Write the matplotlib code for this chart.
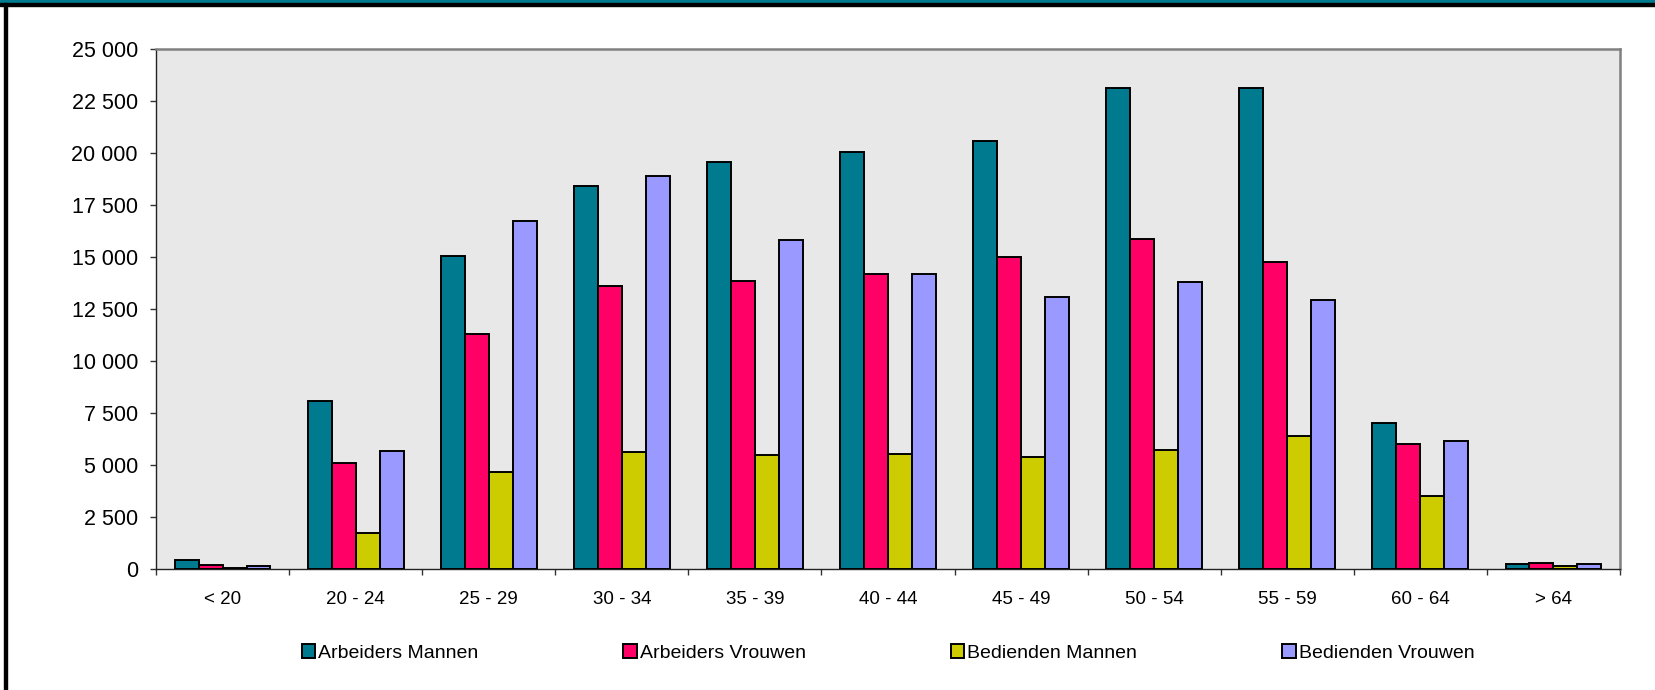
import matplotlib.pyplot as plt
import numpy as np
from matplotlib.patches import Rectangle
from matplotlib.ticker import FixedLocator, FuncFormatter

# age groups and the four series
age_groups = ["< 20", "20 - 24", "25 - 29", "30 - 34", "35 - 39", "40 - 44",
              "45 - 49", "50 - 54", "55 - 59", "60 - 64", "> 64"]
arbeiders_mannen = [430, 8080, 15060, 18410, 19570, 20030, 20590, 23110, 23140, 7030, 230]
arbeiders_vrouwen = [190, 5110, 11310, 13590, 13840, 14200, 15010, 15870, 14760, 6030, 270]
bedienden_mannen = [50, 1730, 4670, 5630, 5480, 5530, 5380, 5730, 6390, 3530, 150]
bedienden_vrouwen = [130, 5670, 16730, 18910, 15820, 14200, 13080, 13790, 12930, 6150, 220]

series_names = ["Arbeiders Mannen", "Arbeiders Vrouwen", "Bedienden Mannen", "Bedienden Vrouwen"]
series = [arbeiders_mannen, arbeiders_vrouwen, bedienden_mannen, bedienden_vrouwen]
colors = ["#007A8E", "#FF0066", "#CCCC00", "#9999FF"]

plt.rcParams["font.family"] = ["Liberation Sans", "DejaVu Sans"]
plt.rcParams["font.size"] = 14

W, H = 1656, 690
fig = plt.figure(figsize=(W / 100, H / 100), dpi=100)

# frame decorations: teal header band, black rule and left border
fig.patches.append(Rectangle((0, 1 - 3 / H), 1, 3 / H, transform=fig.transFigure,
                             color="#007A8E", zorder=0))
fig.patches.append(Rectangle((0, 1 - 6 / H), 1, 3 / H, transform=fig.transFigure,
                             color="black", zorder=0))
fig.patches.append(Rectangle((4 / W, 0), 3.5 / W, 1 - 3 / H, transform=fig.transFigure,
                             color="black", zorder=0))

ax = fig.add_axes([156 / W, 1 - 569 / H, (1620 - 156) / W, (569 - 49) / H])
ax.set_facecolor("#E8E8E8")

x = np.arange(len(age_groups))
bw = 0.18
for i, (name, vals, col) in enumerate(zip(series_names, series, colors)):
    ax.bar(x + (i - 1.5) * bw, vals, width=bw, color=col, edgecolor="black",
           linewidth=1.4, label=name, zorder=3)

ax.set_xlim(-0.5, len(age_groups) - 0.5)
ax.set_ylim(0, 25000)
ax.yaxis.set_major_locator(FixedLocator(np.arange(0, 25001, 2500)))
ax.yaxis.set_major_formatter(FuncFormatter(lambda v, p: f"{v:,.0f}".replace(",", " ")))

ax.xaxis.set_major_locator(FixedLocator(np.arange(-0.5, len(age_groups), 1.0)))
ax.xaxis.set_major_formatter(FuncFormatter(lambda v, p: ""))
ax.xaxis.set_minor_locator(FixedLocator(x))
ax.set_xticklabels(age_groups, minor=True)
ax.tick_params(axis="x", which="minor", length=0, pad=16, labelsize=13.5)
ax.tick_params(axis="x", which="major", length=4, width=1, color="#333333")
ax.tick_params(axis="y", length=4, width=1, color="#333333", pad=9, labelsize=15.5)

for s in ["top", "right"]:
    ax.spines[s].set_color("#808080")
    ax.spines[s].set_linewidth(1.8)
for s in ["left", "bottom"]:
    ax.spines[s].set_color("#222222")
    ax.spines[s].set_linewidth(1.0)

fig.legend(loc="center", bbox_to_anchor=((156 + 1620) / 2 / W, 1 - 653 / H), ncol=4,
           frameon=False, handlelength=0.7, handleheight=0.7, handletextpad=0.15,
           columnspacing=7.45, fontsize=14)

fig.savefig("out.png", dpi=100)
